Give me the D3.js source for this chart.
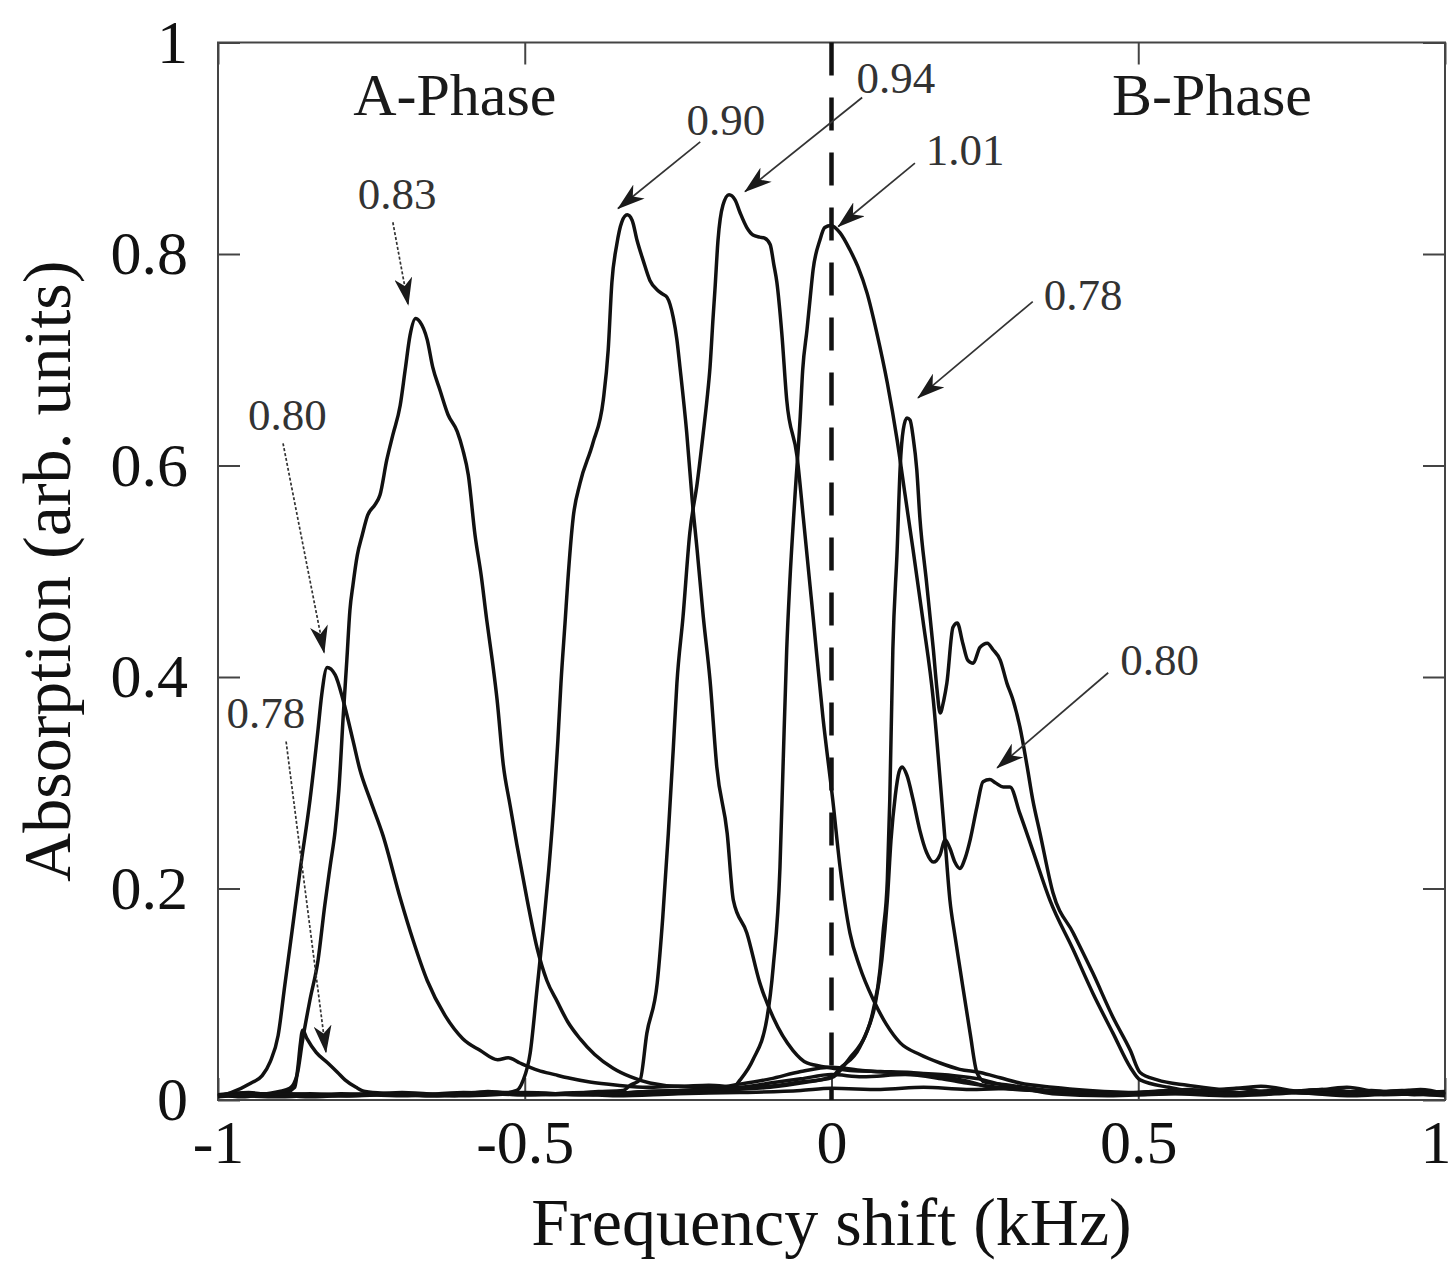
<!DOCTYPE html>
<html>
<head>
<meta charset="utf-8">
<script src="https://d3js.org/d3.v7.min.js"></script>
<style>
body { margin: 0; background: #fff; }
svg { display: block; }
</style>
</head>
<body>
<svg id="chart" width="1451" height="1264"></svg>
<script>
var xTicks = [-1, -0.5, 0, 0.5, 1];
var xTickLabels = ['-1', '-0.5', '0', '0.5', '1'];
var yTicks = [0, 0.2, 0.4, 0.6, 0.8, 1];
var yTickLabels = ['0', '0.2', '0.4', '0.6', '0.8', '1'];

// spectra, [frequency shift kHz, absorption]
var a078 = [[-1,0.004],[-0.96,0.006],[-0.92,0.004],[-0.89,0.007],[-0.875,0.012],[-0.869,0.035],[-0.866,0.052],[-0.862,0.066],[-0.855,0.058],[-0.84,0.045],[-0.821,0.035],[-0.805,0.026],[-0.793,0.019],[-0.775,0.012],[-0.76,0.008],[-0.72,0.006],[-0.65,0.004],[-0.58,0.007],[-0.5,0.005],[-0.42,0.006],[-0.35,0.004],[-0.25,0.006],[-0.15,0.007],[-0.05,0.009],[0,0.011],[0.08,0.01],[0.15,0.012],[0.22,0.01],[0.3,0.011],[0.36,0.006],[0.45,0.004],[0.55,0.006],[0.65,0.004],[0.75,0.007],[0.85,0.004],[0.92,0.006],[1,0.004]];

var a080 = [[-1,0.004],[-0.99,0.005],[-0.979,0.007],[-0.946,0.016],[-0.928,0.023],[-0.915,0.036],[-0.902,0.061],[-0.891,0.109],[-0.879,0.161],[-0.866,0.218],[-0.85,0.284],[-0.837,0.35],[-0.831,0.383],[-0.822,0.409],[-0.809,0.402],[-0.796,0.378],[-0.78,0.34],[-0.769,0.313],[-0.752,0.284],[-0.731,0.25],[-0.703,0.191],[-0.682,0.151],[-0.659,0.113],[-0.63,0.08],[-0.601,0.058],[-0.573,0.047],[-0.544,0.038],[-0.527,0.04],[-0.508,0.035],[-0.478,0.028],[-0.451,0.024],[-0.43,0.021],[-0.394,0.017],[-0.349,0.014],[-0.3,0.012],[-0.25,0.013],[-0.2,0.011],[-0.15,0.015],[-0.1,0.02],[-0.05,0.027],[0,0.031],[0.05,0.028],[0.1,0.026],[0.15,0.025],[0.2,0.023],[0.24,0.02],[0.28,0.014],[0.32,0.01],[0.4,0.007],[0.5,0.006],[0.6,0.009],[0.7,0.006],[0.8,0.01],[0.9,0.005],[1,0.007]];

var a083 = [[-1,0.005],[-0.96,0.003],[-0.92,0.006],[-0.9,0.008],[-0.883,0.011],[-0.871,0.024],[-0.862,0.057],[-0.85,0.095],[-0.837,0.132],[-0.826,0.184],[-0.817,0.222],[-0.809,0.255],[-0.803,0.293],[-0.796,0.362],[-0.79,0.416],[-0.785,0.463],[-0.78,0.487],[-0.773,0.515],[-0.765,0.534],[-0.756,0.553],[-0.744,0.563],[-0.736,0.572],[-0.725,0.605],[-0.715,0.629],[-0.703,0.657],[-0.695,0.69],[-0.687,0.723],[-0.678,0.739],[-0.671,0.736],[-0.659,0.719],[-0.65,0.693],[-0.638,0.671],[-0.625,0.648],[-0.61,0.632],[-0.601,0.615],[-0.592,0.591],[-0.581,0.534],[-0.571,0.496],[-0.562,0.454],[-0.553,0.416],[-0.545,0.378],[-0.535,0.317],[-0.524,0.279],[-0.513,0.242],[-0.496,0.189],[-0.48,0.144],[-0.464,0.113],[-0.447,0.093],[-0.43,0.074],[-0.41,0.058],[-0.386,0.043],[-0.356,0.03],[-0.328,0.022],[-0.296,0.016],[-0.25,0.013],[-0.2,0.014],[-0.15,0.012],[-0.1,0.016],[-0.05,0.02],[0,0.024],[0.05,0.022],[0.12,0.024],[0.18,0.02],[0.22,0.016],[0.27,0.012],[0.33,0.009],[0.42,0.008],[0.5,0.005],[0.6,0.007],[0.7,0.005],[0.78,0.009],[0.88,0.006],[1,0.008]];

var a090 = [[-1,0.005],[-0.95,0.007],[-0.9,0.004],[-0.85,0.006],[-0.78,0.004],[-0.7,0.006],[-0.62,0.004],[-0.56,0.008],[-0.53,0.007],[-0.513,0.009],[-0.503,0.018],[-0.491,0.045],[-0.48,0.105],[-0.47,0.161],[-0.461,0.217],[-0.452,0.284],[-0.446,0.34],[-0.441,0.394],[-0.434,0.454],[-0.43,0.489],[-0.421,0.551],[-0.41,0.583],[-0.389,0.621],[-0.372,0.662],[-0.364,0.709],[-0.358,0.773],[-0.35,0.809],[-0.342,0.83],[-0.333,0.837],[-0.325,0.832],[-0.317,0.813],[-0.307,0.794],[-0.296,0.775],[-0.284,0.766],[-0.275,0.762],[-0.268,0.759],[-0.258,0.74],[-0.252,0.719],[-0.247,0.693],[-0.236,0.631],[-0.227,0.567],[-0.219,0.52],[-0.209,0.457],[-0.198,0.397],[-0.187,0.315],[-0.17,0.252],[-0.16,0.189],[-0.138,0.158],[-0.117,0.111],[-0.095,0.078],[-0.063,0.047],[-0.04,0.035],[-0.007,0.031],[0.03,0.028],[0.08,0.027],[0.13,0.026],[0.18,0.022],[0.22,0.018],[0.26,0.012],[0.3,0.01],[0.38,0.008],[0.45,0.006],[0.55,0.008],[0.65,0.005],[0.72,0.009],[0.82,0.006],[0.92,0.008],[1,0.005]];

var a094 = [[-1,0.004],[-0.93,0.006],[-0.85,0.003],[-0.75,0.006],[-0.65,0.004],[-0.55,0.007],[-0.45,0.005],[-0.38,0.008],[-0.34,0.009],[-0.328,0.014],[-0.312,0.019],[-0.301,0.063],[-0.284,0.111],[-0.275,0.173],[-0.266,0.252],[-0.258,0.331],[-0.252,0.394],[-0.242,0.457],[-0.231,0.536],[-0.219,0.583],[-0.209,0.631],[-0.203,0.662],[-0.198,0.693],[-0.193,0.74],[-0.19,0.766],[-0.185,0.813],[-0.177,0.846],[-0.167,0.856],[-0.157,0.851],[-0.149,0.839],[-0.138,0.825],[-0.128,0.818],[-0.117,0.816],[-0.109,0.815],[-0.1,0.809],[-0.094,0.79],[-0.089,0.773],[-0.081,0.725],[-0.073,0.662],[-0.056,0.608],[-0.046,0.551],[-0.03,0.457],[-0.014,0.362],[0.002,0.284],[0.014,0.22],[0.03,0.158],[0.046,0.126],[0.068,0.095],[0.09,0.071],[0.112,0.054],[0.144,0.043],[0.177,0.035],[0.209,0.029],[0.242,0.026],[0.275,0.021],[0.307,0.016],[0.36,0.012],[0.42,0.009],[0.5,0.007],[0.58,0.01],[0.66,0.006],[0.75,0.008],[0.84,0.005],[0.93,0.009],[1,0.006]];

var a101 = [[-1,0.003],[-0.9,0.006],[-0.8,0.004],[-0.7,0.007],[-0.6,0.004],[-0.5,0.006],[-0.4,0.005],[-0.3,0.008],[-0.2,0.01],[-0.16,0.012],[-0.149,0.019],[-0.128,0.038],[-0.105,0.078],[-0.095,0.126],[-0.084,0.22],[-0.079,0.315],[-0.073,0.426],[-0.068,0.489],[-0.06,0.567],[-0.051,0.646],[-0.047,0.69],[-0.04,0.728],[-0.035,0.757],[-0.03,0.785],[-0.019,0.813],[-0.011,0.825],[-0.001,0.827],[0.014,0.82],[0.03,0.804],[0.043,0.788],[0.058,0.763],[0.074,0.725],[0.091,0.678],[0.107,0.624],[0.12,0.572],[0.133,0.52],[0.149,0.454],[0.166,0.378],[0.177,0.303],[0.185,0.246],[0.193,0.189],[0.201,0.156],[0.209,0.126],[0.226,0.063],[0.237,0.026],[0.25,0.017],[0.29,0.014],[0.34,0.01],[0.4,0.008],[0.47,0.006],[0.55,0.009],[0.63,0.005],[0.7,0.008],[0.8,0.006],[0.88,0.009],[0.95,0.005],[1,0.007]];

var b078 = [[-1,0.005],[-0.9,0.003],[-0.8,0.006],[-0.7,0.004],[-0.6,0.007],[-0.5,0.005],[-0.4,0.007],[-0.3,0.006],[-0.2,0.009],[-0.1,0.012],[-0.05,0.016],[0,0.022],[0.014,0.03],[0.046,0.05],[0.068,0.085],[0.079,0.123],[0.084,0.158],[0.091,0.208],[0.095,0.284],[0.1,0.426],[0.107,0.52],[0.112,0.599],[0.117,0.634],[0.123,0.645],[0.128,0.643],[0.133,0.627],[0.139,0.596],[0.144,0.551],[0.155,0.489],[0.166,0.426],[0.172,0.388],[0.177,0.366],[0.183,0.378],[0.188,0.394],[0.198,0.447],[0.205,0.451],[0.214,0.432],[0.222,0.416],[0.231,0.413],[0.242,0.428],[0.254,0.432],[0.263,0.426],[0.275,0.416],[0.286,0.394],[0.296,0.378],[0.307,0.353],[0.319,0.315],[0.328,0.284],[0.34,0.252],[0.361,0.196],[0.394,0.158],[0.426,0.12],[0.459,0.078],[0.487,0.047],[0.503,0.026],[0.531,0.019],[0.58,0.014],[0.64,0.01],[0.7,0.013],[0.77,0.008],[0.84,0.012],[0.9,0.007],[0.96,0.01],[1,0.006]];

var b080 = [[-1,0.004],[-0.9,0.006],[-0.8,0.004],[-0.7,0.006],[-0.6,0.005],[-0.5,0.007],[-0.4,0.005],[-0.3,0.008],[-0.2,0.01],[-0.1,0.013],[-0.05,0.017],[0,0.021],[0.03,0.04],[0.055,0.061],[0.071,0.09],[0.082,0.132],[0.091,0.189],[0.097,0.246],[0.104,0.288],[0.11,0.31],[0.115,0.315],[0.123,0.307],[0.133,0.284],[0.144,0.255],[0.155,0.234],[0.166,0.225],[0.177,0.232],[0.185,0.246],[0.193,0.238],[0.201,0.225],[0.209,0.219],[0.218,0.229],[0.226,0.246],[0.237,0.277],[0.247,0.301],[0.258,0.303],[0.267,0.3],[0.28,0.296],[0.291,0.296],[0.307,0.271],[0.328,0.236],[0.356,0.189],[0.394,0.142],[0.426,0.101],[0.459,0.063],[0.487,0.031],[0.503,0.019],[0.55,0.012],[0.6,0.008],[0.66,0.011],[0.73,0.006],[0.8,0.01],[0.87,0.006],[0.94,0.009],[1,0.005]];

var spectra = [a078, a080, a083, a090, a094, a101, b078, b080];

// peak annotations (text anchor point and arrow, in data units)
var peakLabels = ['0.83', '0.80', '0.78', '0.90', '0.94', '1.01', '0.78', '0.80'];
var labelPos = [[-0.708,0.843],[-0.887,0.634],[-0.922,0.352],[-0.172,0.913],[0.105,0.952],[0.218,0.884],[0.41,0.747],[0.535,0.402]];
var arrowFrom = [[-0.715,0.83],[-0.894,0.621],[-0.889,0.339],[-0.214,0.906],[0.05,0.948],[0.136,0.886],[0.328,0.755],[0.451,0.404]];
var arrowTo = [[-0.69,0.752],[-0.827,0.423],[-0.824,0.045],[-0.348,0.843],[-0.141,0.859],[0.011,0.826],[0.141,0.664],[0.27,0.314]];
var arrowDotted = [true, true, true, false, false, false, false, false];

var phaseNames = ['A-Phase', 'B-Phase'];
var phasePos = [[-0.614,0.931],[0.62,0.931]];

var xTitle = 'Frequency shift (kHz)';
var yTitle = 'Absorption (arb. units)';

var fontFam = '"Liberation Serif", "Times New Roman", Times, serif';

var svg = d3.select('#chart');
var plotLeft = 218, plotRight = 1445, plotTop = 42.5, plotBottom = 1100;

var x = d3.scaleLinear().domain([-1, 1]).range([plotLeft, plotRight]);
var y = d3.scaleLinear().domain([0, 1]).range([plotBottom, plotTop]);

var defs = svg.append('defs');
defs.append('marker')
    .attr('id', 'arrowHead')
    .attr('viewBox', '0 0 28 18')
    .attr('markerUnits', 'userSpaceOnUse')
    .attr('markerWidth', 28)
    .attr('markerHeight', 18)
    .attr('refX', 27)
    .attr('refY', 9)
    .attr('orient', 'auto')
  .append('path')
    .attr('d', 'M0,0L28,9L0,18L8,9Z')
    .attr('fill', '#1a1a1a');

// axes: inward ticks on all four sides
function styleAxis(g) {
    g.select('.domain').remove();
    g.selectAll('.tick line').attr('stroke', '#444').attr('stroke-width', 2);
    g.selectAll('.tick text').attr('fill', '#111');
    g.attr('font-family', fontFam).attr('font-size', 62);
}

var xAxisG = svg.append('g')
    .attr('transform', 'translate(0,' + plotBottom + ')')
    .call(d3.axisBottom(x).tickValues(xTicks).tickSize(-22).tickPadding(19)
        .tickFormat(function(d, i) { return xTickLabels[i]; }))
    .call(styleAxis);

// last label sits on the page edge, nudge it inside
xAxisG.selectAll('.tick text')
    .filter(function(d) { return d === 1; })
    .attr('text-anchor', 'end')
    .attr('dx', 6);

svg.append('g')
    .attr('transform', 'translate(0,' + plotTop + ')')
    .call(d3.axisTop(x).tickValues(xTicks).tickSize(-22).tickFormat(''))
    .call(styleAxis);

svg.append('g')
    .attr('transform', 'translate(' + plotLeft + ',0)')
    .call(d3.axisLeft(y).tickValues(yTicks).tickSize(-22).tickPadding(30)
        .tickFormat(function(d, i) { return yTickLabels[i]; }))
    .call(styleAxis);

svg.append('g')
    .attr('transform', 'translate(' + plotRight + ',0)')
    .call(d3.axisRight(y).tickValues(yTicks).tickSize(-22).tickFormat(''))
    .call(styleAxis);

// frame
svg.append('rect')
    .attr('x', plotLeft)
    .attr('y', plotTop)
    .attr('width', plotRight - plotLeft)
    .attr('height', plotBottom - plotTop)
    .attr('fill', 'none')
    .attr('stroke', '#444')
    .attr('stroke-width', 2);

// dashed line at zero shift
svg.append('line')
    .attr('x1', x(0)).attr('x2', x(0))
    .attr('y1', y(1)).attr('y2', y(0))
    .attr('stroke', '#111')
    .attr('stroke-width', 4.5)
    .attr('stroke-dasharray', '33,22');

var line = d3.line()
    .x(function(d) { return x(d[0]); })
    .y(function(d) { return y(d[1]); })
    .curve(d3.curveMonotoneX);

svg.append('g').selectAll('path')
    .data(spectra)
    .enter().append('path')
    .attr('d', line)
    .attr('fill', 'none')
    .attr('stroke', '#111')
    .attr('stroke-width', 3.5)
    .attr('stroke-linejoin', 'round');

// arrows + numbers
svg.append('g').selectAll('line')
    .data(peakLabels)
    .enter().append('line')
    .attr('x1', function(d, i) { return x(arrowFrom[i][0]); })
    .attr('y1', function(d, i) { return y(arrowFrom[i][1]); })
    .attr('x2', function(d, i) { return x(arrowTo[i][0]); })
    .attr('y2', function(d, i) { return y(arrowTo[i][1]); })
    .attr('stroke', '#333')
    .attr('stroke-width', 1.7)
    .attr('stroke-dasharray', function(d, i) { return arrowDotted[i] ? '3,2' : null; })
    .attr('marker-end', 'url(#arrowHead)');

svg.append('g').selectAll('text')
    .data(peakLabels)
    .enter().append('text')
    .attr('x', function(d, i) { return x(labelPos[i][0]); })
    .attr('y', function(d, i) { return y(labelPos[i][1]); })
    .attr('text-anchor', 'middle')
    .attr('font-family', fontFam)
    .attr('font-size', 45)
    .attr('fill', '#333')
    .text(function(d) { return d; });

svg.append('g').selectAll('text')
    .data(phaseNames)
    .enter().append('text')
    .attr('x', function(d, i) { return x(phasePos[i][0]); })
    .attr('y', function(d, i) { return y(phasePos[i][1]); })
    .attr('text-anchor', 'middle')
    .attr('font-family', fontFam)
    .attr('font-size', 60)
    .attr('fill', '#1a1a1a')
    .text(function(d) { return d; });

// axis titles
svg.append('text')
    .attr('x', (plotLeft + plotRight) / 2)
    .attr('y', 1245)
    .attr('text-anchor', 'middle')
    .attr('font-family', fontFam)
    .attr('font-size', 68)
    .attr('fill', '#111')
    .text(xTitle);

svg.append('text')
    .attr('transform', 'translate(70,' + ((plotTop + plotBottom) / 2) + ') rotate(-90)')
    .attr('text-anchor', 'middle')
    .attr('font-family', fontFam)
    .attr('font-size', 68)
    .attr('fill', '#111')
    .text(yTitle);
</script>
</body>
</html>
